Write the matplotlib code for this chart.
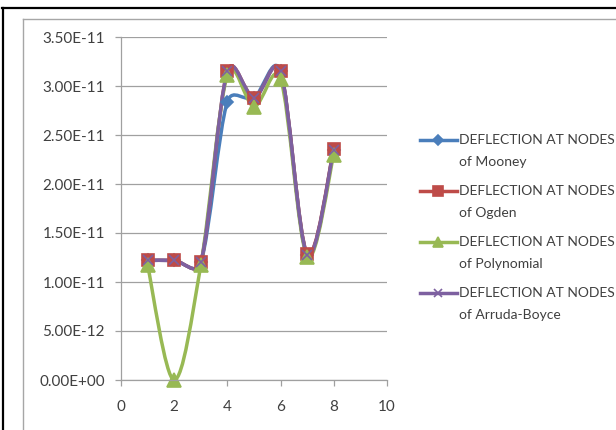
import math

import matplotlib.pyplot as plt
from matplotlib.path import Path
from matplotlib.patches import PathPatch
from matplotlib.lines import Line2D
from matplotlib.ticker import FuncFormatter

# node numbers and deflections for each material model
nodes = [1, 2, 3, 4, 5, 6, 7, 8]
mooney = [1.22e-11, 1.22e-11, 1.20e-11, 2.84e-11, 2.88e-11, 3.15e-11, 1.28e-11, 2.35e-11]
ogden = [1.22e-11, 1.22e-11, 1.20e-11, 3.15e-11, 2.88e-11, 3.15e-11, 1.29e-11, 2.36e-11]
polynomial = [1.17e-11, 0.0, 1.17e-11, 3.11e-11, 2.79e-11, 3.07e-11, 1.26e-11, 2.30e-11]
arruda_boyce = [1.22e-11, 1.22e-11, 1.20e-11, 3.15e-11, 2.88e-11, 3.15e-11, 1.28e-11, 2.35e-11]

labels = ["DEFLECTION AT NODES\nof Mooney", "DEFLECTION AT NODES\nof Ogden",
          "DEFLECTION AT NODES\nof Polynomial", "DEFLECTION AT NODES\nof Arruda-Boyce"]

plt.rcParams["font.family"] = ["Lato", "DejaVu Sans"]

W, H = 616, 430
fig = plt.figure(figsize=(W / 100, H / 100), dpi=100)


def fx(px):
    return px / W


def fy(py):
    return 1 - py / H


# outer frame and chart area border
fig.add_artist(Line2D([fx(2), 1], [fy(8), fy(8)], color="black", lw=1.6))
fig.add_artist(Line2D([fx(3), fx(3)], [fy(8), 0], color="black", lw=1.6))
fig.add_artist(Line2D([fx(23), 1], [fy(19), fy(19)], color="#a6a6a6", lw=1.0))
fig.add_artist(Line2D([fx(23), fx(23)], [fy(19), 0], color="#a6a6a6", lw=1.0))

ax = fig.add_axes([fx(121), fy(380), fx(387) - fx(121), fy(37) - fy(380)])
ax.set_xlim(0, 10)
ax.set_ylim(0, 3.5e-11)
ax.set_xticks(range(0, 11, 2))
ax.set_yticks([i * 0.5e-11 for i in range(8)])
ax.yaxis.set_major_formatter(FuncFormatter(lambda v, p: f"{v:.2E}"))
ax.grid(axis="y", color="#a0a0a0", lw=0.9)
ax.set_axisbelow(True)
for s in ["top", "right"]:
    ax.spines[s].set_visible(False)
for s in ["left", "bottom"]:
    ax.spines[s].set_color("#a0a0a0")
    ax.spines[s].set_linewidth(0.9)
ax.tick_params(colors="#a0a0a0", length=4.5, width=0.9, labelcolor="#404040", labelsize=11)
ax.tick_params(axis="y", pad=7)
ax.tick_params(axis="x", pad=10)


def smooth_path(xs, ys):
    # bezier through the points; handles are 1/6 of the neighbour chord,
    # capped relative to the segment length (worked out in screen space)
    tr = ax.transData
    pts = [tuple(p) for p in tr.transform(list(zip(xs, ys)))]
    n = len(pts)

    def handle(i, j):
        # control point next to pts[i] on the segment towards pts[j]
        a = pts[i - 1] if i > 0 else pts[i]
        b = pts[i + 1] if i + 1 < n else pts[i]
        tx, ty = b[0] - a[0], b[1] - a[1]
        tl = math.hypot(tx, ty)
        if tl == 0:
            return pts[i]
        seg = math.hypot(pts[j][0] - pts[i][0], pts[j][1] - pts[i][1])
        L = min(tl / 6, seg * 0.6)
        s = 1 if j > i else -1
        return (pts[i][0] + s * tx / tl * L, pts[i][1] + s * ty / tl * L)

    verts = [pts[0]]
    codes = [Path.MOVETO]
    for i in range(n - 1):
        verts += [handle(i, i + 1), handle(i + 1, i), pts[i + 1]]
        codes += [Path.CURVE4] * 3
    verts = tr.inverted().transform(verts)
    return Path(verts, codes)


series = [
    (mooney, "#4a7ebb", "D", 6),
    (ogden, "#be4b48", "s", 8.5),
    (polynomial, "#98b954", "^", 9.5),
    (arruda_boyce, "#7d60a0", "x", 7),
]

for vals, color, marker, ms in series:
    patch = PathPatch(smooth_path(nodes, vals), fill=False, edgecolor=color, lw=2.5,
                      clip_on=False, capstyle="round", joinstyle="round")
    ax.add_patch(patch)
    ax.plot(nodes, vals, linestyle="none", marker=marker, markersize=ms, color=color,
            markeredgecolor=color, markeredgewidth=1.2, clip_on=False)

# legend entries
for i, ((vals, color, marker, ms), lab) in enumerate(zip(series, labels)):
    y0 = 140 + i * 51
    first, second = lab.split("\n")
    fig.add_artist(Line2D([fx(420), fx(457)], [fy(y0), fy(y0)], color=color, lw=2.5))
    fig.add_artist(Line2D([fx(438)], [fy(y0)], color=color, marker=marker,
                          markersize=ms * 0.8, markeredgewidth=1.2))
    fig.text(fx(459), fy(y0), first, fontsize=10, color="#404040", va="center")
    fig.text(fx(459), fy(y0 + 22), second, fontsize=10, color="#404040", va="center")

fig.savefig("out.png", dpi=100)
